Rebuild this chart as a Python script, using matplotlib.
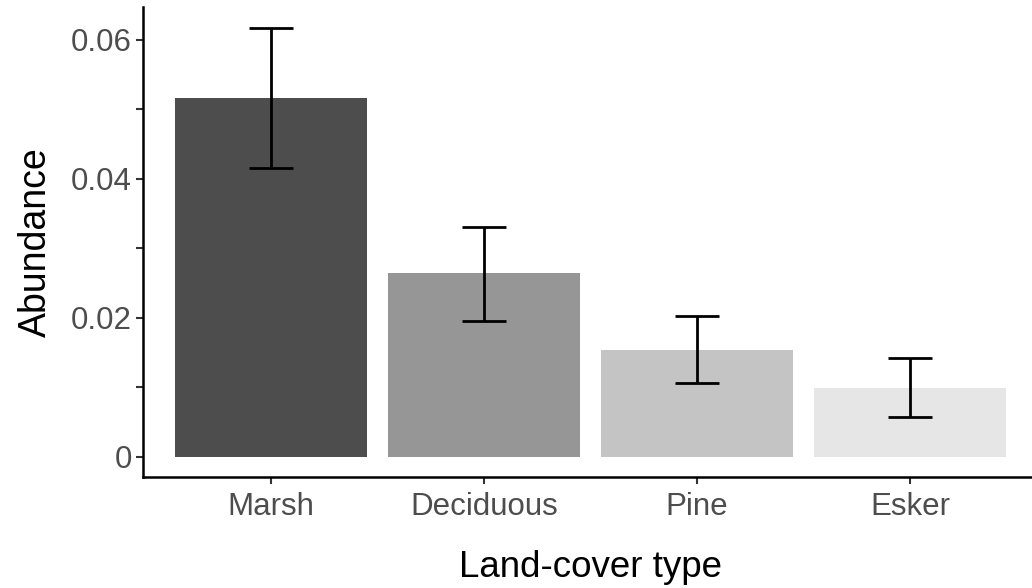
import matplotlib.pyplot as plt
import numpy as np

plt.rcParams['font.family'] = ['Liberation Sans', 'DejaVu Sans']

# data
cover = ['Marsh', 'Deciduous', 'Pine', 'Esker']
abundance = [0.0516, 0.0264, 0.0154, 0.0099]
err_low = [0.0415, 0.0196, 0.0107, 0.0058]
err_high = [0.0617, 0.0330, 0.0202, 0.0143]
fills = ['#4d4d4d', '#969696', '#c4c4c4', '#e6e6e6']

fig = plt.figure(figsize=(10.32, 5.88), dpi=100)
ax = fig.add_axes([143 / 1032, 1 - 477 / 588, 895 / 1032, 470 / 588])

x = np.arange(1, len(cover) + 1)
ax.bar(x, abundance, width=0.9, color=fills)

mean = np.array(abundance)
yerr = [mean - np.array(err_low), np.array(err_high) - mean]
ax.errorbar(x, mean, yerr=yerr, fmt='none', ecolor='black',
            elinewidth=2.0, capsize=15.5, capthick=2.0)

ax.set_xlim(0.4, 4.6)
ax.set_ylim(-0.00288, 0.0647)
ax.set_xticks(x)
ax.set_xticklabels(cover)
ax.set_yticks([0, 0.02, 0.04, 0.06])
ax.set_yticklabels(['0', '0.02', '0.04', '0.06'])
ax.set_yticks([0.01, 0.03, 0.05], minor=True)

for s in ['top', 'right']:
    ax.spines[s].set_visible(False)
for s in ['left', 'bottom']:
    ax.spines[s].set_linewidth(1.8)
    ax.spines[s].set_color('black')

ax.tick_params(axis='both', which='both', length=5, width=1.5,
               color='#333333', labelsize=22.5, labelcolor='#4d4d4d', pad=3)
ax.tick_params(axis='x', pad=6)

ax.set_xlabel('Land-cover type', fontsize=26.5, color='black', labelpad=20)
ax.set_ylabel('Abundance', fontsize=27, color='black', labelpad=12)

fig.savefig('out.png', dpi=100, facecolor='white')
